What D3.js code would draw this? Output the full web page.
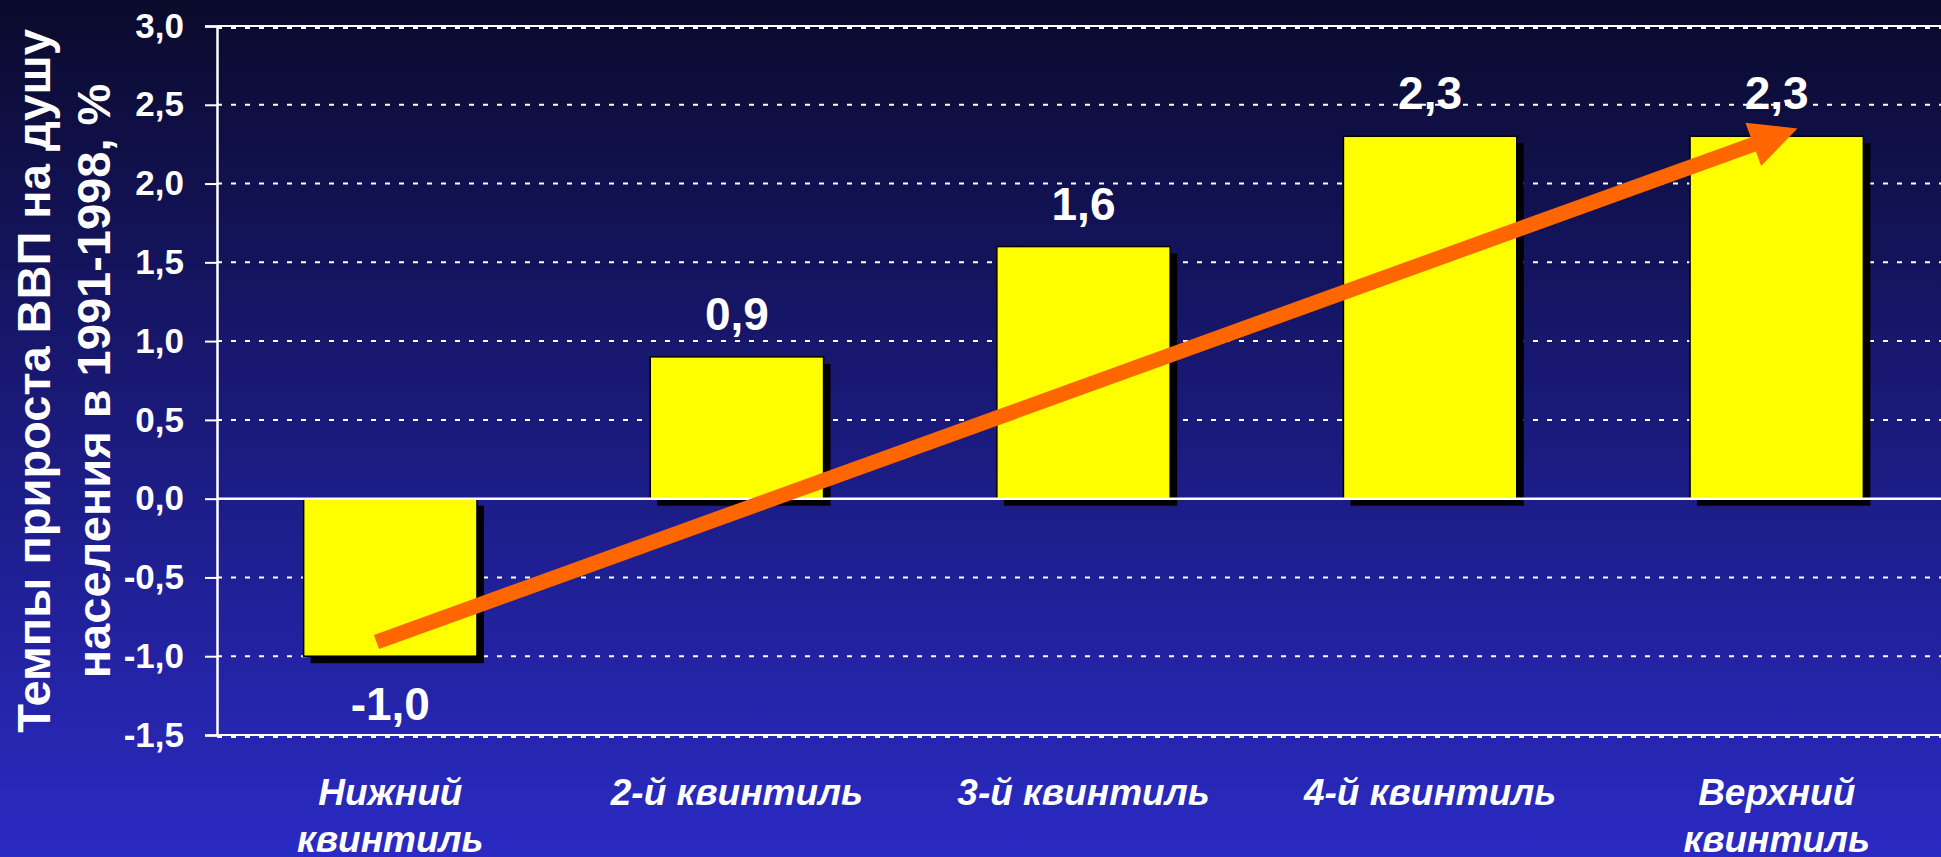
<!DOCTYPE html>
<html>
<head>
<meta charset="utf-8">
<script src="https://cdn.jsdelivr.net/npm/d3@7"></script>
<style>
  body { margin: 0; overflow: hidden; background: #0a0a2a; }
  text { font-family: "Liberation Sans", Arial, sans-serif; fill: #fff; }
</style>
</head>
<body>
<svg id="chart" width="1941" height="857"></svg>
<script>
// data
var categories = ["Нижний квинтиль", "2-й квинтиль", "3-й квинтиль", "4-й квинтиль", "Верхний квинтиль"];
var categoryLines = [["Нижний", "квинтиль"], ["2-й квинтиль"], ["3-й квинтиль"], ["4-й квинтиль"], ["Верхний", "квинтиль"]];
var values = [-1.0, 0.9, 1.6, 2.3, 2.3];
var yTicks = [-1.5, -1.0, -0.5, 0.0, 0.5, 1.0, 1.5, 2.0, 2.5, 3.0];
var yTitle = ["Темпы прироста ВВП на душу", "населения в 1991-1998, %"];
// trend arrow: [category position, value]
var trendStart = [-0.04, -0.91];
var trendEnd = [4.06, 2.35];

var W = 1941, H = 857;
var svg = d3.select("#chart");

var ru = d3.formatLocale({decimal: ",", thousands: " ", grouping: [3], currency: ["", ""], minus: "-"});
var fmt = ru.format(".1f");

//background gradient
var defs = svg.append("defs");
var grad = defs.append("linearGradient").attr("id", "bg")
  .attr("x1", 0).attr("y1", 0).attr("x2", 0).attr("y2", 1);
grad.append("stop").attr("offset", "0%").attr("stop-color", "#0a0a2c");
grad.append("stop").attr("offset", "50%").attr("stop-color", "#1a1a7c");
grad.append("stop").attr("offset", "100%").attr("stop-color", "#2a2ac4");
svg.append("rect").attr("width", W).attr("height", H).attr("fill", "url(#bg)");

var plotLeft = 217, plotRight = 1950, plotTop = 26, plotBottom = 735;

var x = d3.scaleBand().domain(categories).range([plotLeft, plotRight])
  .paddingInner(0.5).paddingOuter(0.25);
var y = d3.scaleLinear().domain([-1.5, 3]).range([plotBottom, plotTop]);
var xPos = d3.scaleLinear().domain([0, 4])
  .range([x(categories[0]) + x.bandwidth() / 2, x(categories[4]) + x.bandwidth() / 2]);

// grid
svg.append("g").selectAll("line")
  .data(yTicks.filter(d => d !== 0))
  .enter().append("line")
  .attr("x1", plotLeft).attr("x2", W)
  .attr("y1", d => y(d) + (d === 3 || d === -1.5 ? 2 : 0))
  .attr("y2", d => y(d) + (d === 3 || d === -1.5 ? 2 : 0))
  .attr("stroke", "#fff").attr("stroke-width", 2)
  .attr("stroke-dasharray", "5,9");

// frame lines top / bottom
svg.append("g").selectAll("line")
  .data([3, -1.5])
  .enter().append("line")
  .attr("x1", plotLeft).attr("x2", W)
  .attr("y1", d => y(d)).attr("y2", d => y(d))
  .attr("stroke", "#fff").attr("stroke-width", 2);

// bars: shadow then bar
var bars = svg.append("g");
bars.selectAll("rect.shadow")
  .data(values)
  .enter().append("rect")
  .attr("class", "shadow")
  .attr("x", (d, i) => x(categories[i]) + 7)
  .attr("y", d => Math.min(y(d), y(0)) + 7)
  .attr("width", x.bandwidth())
  .attr("height", d => Math.abs(y(d) - y(0)))
  .attr("fill", "#000");

bars.selectAll("rect.bar")
  .data(values)
  .enter().append("rect")
  .attr("class", "bar")
  .attr("x", (d, i) => x(categories[i]))
  .attr("y", d => Math.min(y(d), y(0)))
  .attr("width", x.bandwidth())
  .attr("height", d => Math.abs(y(d) - y(0)))
  .attr("fill", "#ffff00")
  .attr("stroke", "#000").attr("stroke-width", 1.5);

// zero line
svg.append("line")
  .attr("x1", plotLeft).attr("x2", W)
  .attr("y1", y(0)).attr("y2", y(0))
  .attr("stroke", "#fff").attr("stroke-width", 2.5);

// y axis
var yAxis = d3.axisLeft(y).tickValues(yTicks).tickSize(12).tickPadding(21)
  .tickFormat(fmt);
var ga = svg.append("g").attr("transform", "translate(" + plotLeft + ",0)").call(yAxis);
ga.select(".domain").attr("stroke", "#fff").attr("stroke-width", 2.5);
ga.selectAll(".tick line").attr("stroke", "#fff").attr("stroke-width", 2);
ga.selectAll(".tick text")
  .style("font-family", '"Liberation Sans", Arial, sans-serif')
  .style("font-size", "35px").style("font-weight", "bold")
  .attr("fill", "#fff");

// value labels
svg.append("g").selectAll("text")
  .data(values)
  .enter().append("text")
  .attr("x", (d, i) => x(categories[i]) + x.bandwidth() / 2)
  .attr("y", d => d >= 0 ? y(d) - 27 : y(d) + 64)
  .attr("text-anchor", "middle")
  .style("font-size", "46px").style("font-weight", "bold")
  .text(d => fmt(d));

// x labels
var xl = svg.append("g").selectAll("text")
  .data(categoryLines)
  .enter().append("text")
  .attr("x", (d, i) => x(categories[i]) + x.bandwidth() / 2)
  .attr("y", 805)
  .attr("text-anchor", "middle")
  .style("font-size", "37px").style("font-style", "italic").style("font-weight", "bold");
xl.selectAll("tspan")
  .data(d => d)
  .enter().append("tspan")
  .attr("x", function () { return d3.select(this.parentNode).attr("x"); })
  .attr("dy", (d, i) => i === 0 ? 0 : 47)
  .text(d => d);

// y title
var yt = svg.append("text")
  .attr("transform", "translate(50,381) rotate(-90)")
  .attr("text-anchor", "middle")
  .style("font-size", "47px").style("font-weight", "bold");
yt.selectAll("tspan")
  .data(yTitle)
  .enter().append("tspan")
  .attr("x", 0)
  .attr("dy", (d, i) => i === 0 ? 0 : 60)
  .text(d => d);

// trend arrow
var p0 = [xPos(trendStart[0]), y(trendStart[1])];
var p1 = [xPos(trendEnd[0]), y(trendEnd[1])];
var dx = p1[0] - p0[0], dy = p1[1] - p0[1];
var len = Math.sqrt(dx * dx + dy * dy);
var ux = dx / len, uy = dy / len;
var headLen = 47, headHalf = 23;
var base = [p1[0] - ux * headLen, p1[1] - uy * headLen];
svg.append("line")
  .attr("x1", p0[0]).attr("y1", p0[1])
  .attr("x2", base[0] + ux * 2).attr("y2", base[1] + uy * 2)
  .attr("stroke", "#ff6600").attr("stroke-width", 15);
svg.append("polygon")
  .attr("points", [
    p1,
    [base[0] - uy * headHalf, base[1] + ux * headHalf],
    [base[0] + uy * headHalf, base[1] - ux * headHalf]
  ].map(p => p.join(",")).join(" "))
  .attr("fill", "#ff6600");
</script>
</body>
</html>
